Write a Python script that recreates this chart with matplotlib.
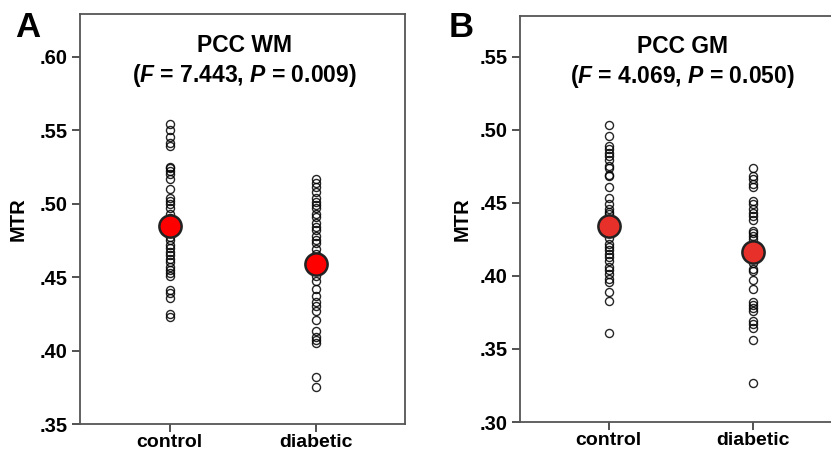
import matplotlib
matplotlib.use('Agg')
from matplotlib import pyplot as plt

plt.rcParams['font.family'] = ['Liberation Sans', 'DejaVu Sans']
plt.rcParams['font.weight'] = 'bold'
plt.rcParams['mathtext.fontset'] = 'custom'
plt.rcParams['mathtext.rm'] = 'Liberation Sans:bold'
plt.rcParams['mathtext.it'] = 'Liberation Sans:italic:bold'

groups = ['control', 'diabetic']

# PCC white matter MTR per subject
wm_control = [0.554, 0.550, 0.545, 0.541, 0.539, 0.525, 0.524, 0.522, 0.520, 0.517,
              0.510, 0.504, 0.502, 0.500, 0.497, 0.493, 0.490, 0.487, 0.484, 0.482,
              0.480, 0.477, 0.475, 0.472, 0.470, 0.467, 0.465, 0.462, 0.460, 0.457,
              0.455, 0.453, 0.451, 0.441, 0.439, 0.436, 0.425, 0.423]
wm_diabetic = [0.517, 0.514, 0.511, 0.508, 0.504, 0.501, 0.499, 0.497, 0.493, 0.491,
               0.487, 0.484, 0.482, 0.478, 0.475, 0.473, 0.469, 0.466, 0.463, 0.456,
               0.451, 0.447, 0.442, 0.437, 0.433, 0.430, 0.427, 0.421, 0.413, 0.409,
               0.407, 0.405, 0.382, 0.375]
wm_means = [0.485, 0.459]

# PCC grey matter MTR per subject
gm_control = [0.503, 0.496, 0.489, 0.487, 0.484, 0.482, 0.479, 0.475, 0.474, 0.469,
              0.468, 0.461, 0.453, 0.449, 0.446, 0.444, 0.442, 0.439, 0.429, 0.426,
              0.422, 0.420, 0.418, 0.415, 0.413, 0.410, 0.406, 0.404, 0.401, 0.398,
              0.396, 0.389, 0.383, 0.361]
gm_diabetic = [0.474, 0.468, 0.466, 0.463, 0.461, 0.451, 0.449, 0.446, 0.443, 0.441,
               0.438, 0.431, 0.429, 0.427, 0.425, 0.422, 0.419, 0.412, 0.409, 0.405,
               0.403, 0.397, 0.391, 0.382, 0.380, 0.378, 0.376, 0.369, 0.367, 0.364,
               0.356, 0.327]
gm_means = [0.434, 0.416]

panels = [
    dict(letter='A', title='PCC WM', stats='($F$ = 7.443, $P$ = 0.009)',
         points=[wm_control, wm_diabetic], means=wm_means, ylim=(0.35, 0.629),
         yticks=[0.35, 0.40, 0.45, 0.50, 0.55, 0.60], mean_color='#ff0000',
         rect=(0.0963, 0.064, 0.391, 0.905), letter_xy=(0.018, 0.94), ylabel_x=-0.16),
    dict(letter='B', title='PCC GM', stats='($F$ = 4.069, $P$ = 0.050)',
         points=[gm_control, gm_diabetic], means=gm_means, ylim=(0.30, 0.578),
         yticks=[0.30, 0.35, 0.40, 0.45, 0.50, 0.55], mean_color='#e8302a',
         rect=(0.6258, 0.0684, 0.3868, 0.897), letter_xy=(0.540, 0.94), ylabel_x=-0.15),
]

fig = plt.figure(figsize=(8.31, 4.53), dpi=100)

for p in panels:
    ax = fig.add_axes(p['rect'])
    for i, vals in enumerate(p['points']):
        ax.plot([i] * len(vals), vals, 'o', ms=5.8, mfc='none', mec='black', mew=1.0,
                alpha=0.85, zorder=2)
    ax.plot(range(len(groups)), p['means'], 'o', ms=16, mfc=p['mean_color'], mec='#222222',
            mew=1.8, ls='none', zorder=3)

    ax.set_xlim(-0.615, 1.612)
    ax.set_ylim(*p['ylim'])
    ax.set_xticks(range(len(groups)))
    ax.set_xticklabels(groups, fontsize=14, fontweight='bold')
    ax.set_yticks(p['yticks'])
    # SPSS style: drop the leading zero
    ax.set_yticklabels([('%.2f' % v)[1:] for v in p['yticks']], fontsize=14.5,
                       fontweight='bold')
    ax.tick_params(direction='out', length=6, width=1.2, color='#333333', pad=3)
    ax.tick_params(axis='x', length=5.5, pad=1.5)
    ax.set_ylabel('MTR', fontsize=14.5, fontweight='bold')
    ax.yaxis.set_label_coords(p['ylabel_x'], 0.5)
    for s in ax.spines.values():
        s.set_color('#555555')
        s.set_linewidth(1.3)

    ax.text(0.505, 0.924, p['title'], transform=ax.transAxes, ha='center', va='center',
            fontsize=16.5, fontweight='bold')
    ax.text(0.505, 0.851, p['stats'], transform=ax.transAxes, ha='center', va='center',
            fontsize=16.5, fontweight='bold')

    fig.text(p['letter_xy'][0], p['letter_xy'][1], p['letter'], fontsize=25,
             fontweight='bold', ha='left', va='center')

fig.savefig('out.png', dpi=100)
